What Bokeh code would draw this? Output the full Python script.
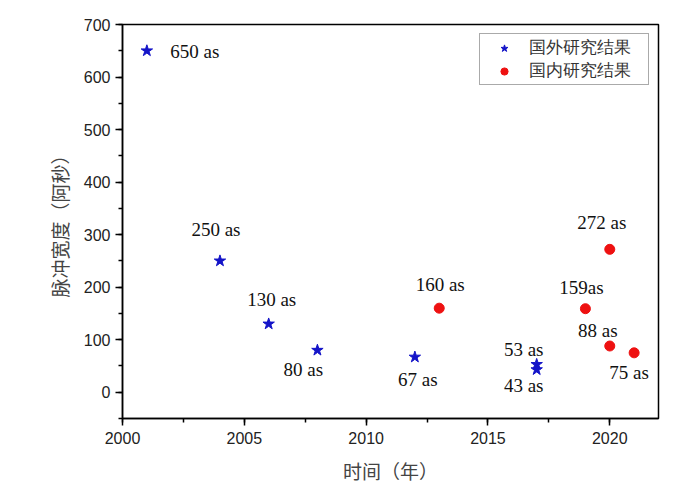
from bokeh.plotting import figure
from bokeh.models import ColumnDataSource, SingleIntervalTicker, Range1d
from bokeh.core.properties import value
from bokeh.embed import file_html
from bokeh.resources import INLINE

# Data
foreign_year = [2001, 2004, 2006, 2008, 2012, 2017, 2017]
foreign_width = [650, 250, 130, 80, 67, 53, 43]
foreign_text = ["650 as", "250 as", "130 as", "80 as", "67 as", "53 as", "43 as"]

domestic_year = [2013, 2019, 2020, 2020, 2021]
domestic_width = [160, 159, 272, 88, 75]
domestic_text = ["160 as", "159as", "272 as", "88 as", "75 as"]

# label pixel offsets (screen px, +y = down)
foreign_dx = [48, -4, 3, -14, 3, -13, -13]
foreign_dy = [1, -31, -24, 19, 22, -15, 16]
domestic_dx = [1, -4, -8, -12, -5]
domestic_dy = [-24, -21, -27, -16, 20]

p = figure(frame_width=536, frame_height=394, output_backend="svg",
           toolbar_location=None, x_range=Range1d(2000, 2022),
           y_range=Range1d(-50, 700), min_border_left=122, min_border_top=24,
           min_border_right=24, min_border_bottom=60)
p.background_fill_color = "white"
p.border_fill_color = "white"
p.grid.visible = False
p.outline_line_color = "black"
p.outline_line_width = 1.5
p.outline_line_alpha = 1.0

fsrc = ColumnDataSource(dict(x=foreign_year, y=foreign_width, t=foreign_text,
                             dx=foreign_dx, dy=foreign_dy))
dsrc = ColumnDataSource(dict(x=domestic_year, y=domestic_width, t=domestic_text,
                             dx=domestic_dx, dy=domestic_dy))

p.scatter("x", "y", source=fsrc, marker="star", size=12, color="#1414c8",
          legend_label="国外研究结果")
p.scatter("x", "y", source=dsrc, marker="circle", size=10, color="#ee1111",
          legend_label="国内研究结果")

for src in (fsrc, dsrc):
    p.text("x", "y", text="t", source=src, x_offset="dx", y_offset="dy",
           text_font=value("Liberation Serif"), text_font_size="19px",
           text_align="center", text_baseline="middle", text_color="#111111")

for ax in (p.xaxis[0], p.yaxis[0]):
    ax.axis_line_width = 1.5
    ax.major_tick_line_width = 1.5
    ax.minor_tick_line_width = 1.5
    ax.major_tick_in = 0
    ax.major_tick_out = 7
    ax.minor_tick_in = 0
    ax.minor_tick_out = 4
    ax.major_label_text_font = "Liberation Sans"
    ax.major_label_text_font_size = "16px"
    ax.major_label_text_color = "#222222"
    ax.axis_label_text_font = "Noto Sans CJK SC"
    ax.axis_label_text_font_size = "19px"
    ax.axis_label_text_font_style = "normal"
    ax.axis_label_text_color = "#444444"

p.xaxis.ticker = SingleIntervalTicker(interval=5, num_minor_ticks=2)
p.yaxis.ticker = SingleIntervalTicker(interval=100, num_minor_ticks=2)
p.xaxis.axis_label = "时间（年）"
p.yaxis.axis_label = "脉冲宽度（阿秒）"
p.xaxis.major_label_standoff = 6
p.yaxis.major_label_standoff = 5
p.xaxis.axis_label_standoff = 10
p.yaxis.axis_label_standoff = 8

lg = p.legend[0]
lg.location = "top_right"
lg.margin = 9
lg.padding = 2
lg.spacing = -4
lg.glyph_width = 44
lg.glyph_height = 18
lg.label_height = 18
lg.label_width = 117
lg.label_standoff = 3
lg.label_text_font = "Liberation Serif"
lg.label_text_font_size = "17px"
lg.label_text_color = "#333333"
lg.border_line_color = "#555555"
lg.border_line_width = 1
lg.background_fill_alpha = 1.0

open("out.html", "w").write(file_html(p, INLINE))
